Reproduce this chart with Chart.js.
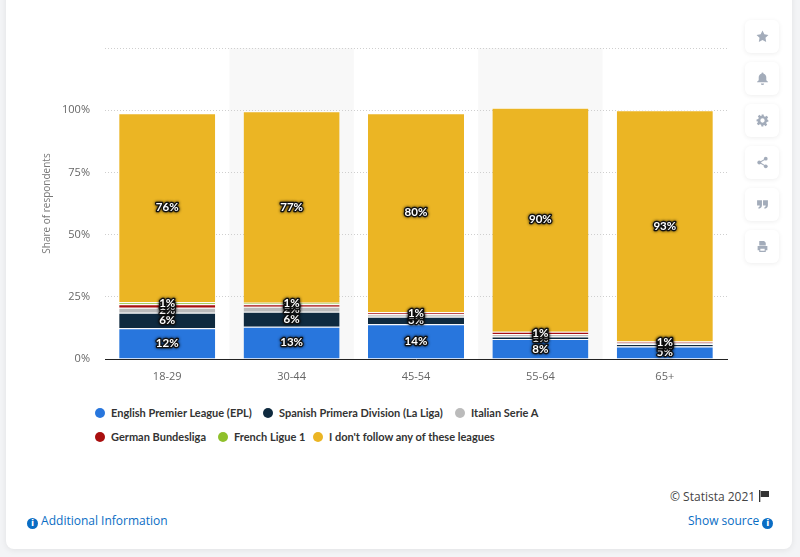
<!DOCTYPE html>
<html>
<head>
<meta charset="utf-8">
<script src="https://cdn.jsdelivr.net/npm/chart.js@4.4.1/dist/chart.umd.min.js"></script>
<style>
    html, body { margin: 0; padding: 0; }
    body { width: 800px; height: 557px; background: #f3f4f6; position: relative; overflow: hidden; font-family: 'Open Sans', sans-serif; }
    .card { position: absolute; left: 6px; top: -12px; width: 786px; height: 561px; background: #fff; border-radius: 8px; box-shadow: 0 1px 6px rgba(0,0,0,0.08); }
    .chart-box { position: absolute; left: 0; top: 2px; width: 740px; height: 395px; }
    .legend-item { position: absolute; font-family: Lato, sans-serif; font-weight: bold; font-size: 11px; color: #333; white-space: nowrap; line-height: 14px; }
    .legend-item i { position: absolute; left: 0; top: 2px; width: 10px; height: 10px; border-radius: 50%; }
    .legend-item span { position: absolute; left: 16px; top: 0; }
    .tool { position: absolute; left: 745px; width: 34px; height: 33px; background: #fff; border-radius: 6px; box-shadow: 0 1px 5px rgba(0,0,0,0.07); display: flex; align-items: center; justify-content: center; }
    .tool svg { width: 13px; height: 13px; fill: #a3acba; }
    .foot { position: absolute; font-size: 12px; white-space: nowrap; }
    .info { display: inline-block; width: 11px; height: 11px; border-radius: 50%; background: #0a6dc4; color: #fff; font: bold 9px/11px 'DejaVu Sans', sans-serif; text-align: center; vertical-align: -1px; }
</style>
</head>
<body>
<div class="card"></div>
<div class="chart-box"><canvas id="chart"></canvas></div>

<div id="legend"></div>

<div class="tool" style="top:20px"><svg viewBox="0 0 24 24"><path d="M12 1l3.4 7 7.6 1.1-5.5 5.3 1.3 7.6L12 18.4 5.2 22l1.3-7.6L1 9.1 8.6 8z"/></svg></div>
<div class="tool" style="top:62px"><svg viewBox="0 0 24 24"><path d="M12 1a2 2 0 0 1 2 2c3.5 1 5 3.6 5 7v5l3 3v1H2v-1l3-3v-5c0-3.4 1.5-6 5-7a2 2 0 0 1 2-2zM9 21h6a3 3 0 0 1-6 0z"/></svg></div>
<div class="tool" style="top:104px"><svg viewBox="0 0 24 24"><path d="M10 1h4l.6 3.2 2.3 1 2.7-1.9 2.8 2.8-1.9 2.7 1 2.3L23 12v0l0 2-3.2.6-1 2.3 1.9 2.7-2.8 2.8-2.7-1.9-2.3 1L14 23h-4l-.6-3.2-2.3-1-2.7 1.9-2.8-2.8 1.9-2.7-1-2.3L1 14v-4l3.2-.6 1-2.3-1.9-2.7 2.8-2.8 2.7 1.9 2.3-1zM12 8a4 4 0 1 0 0 8 4 4 0 0 0 0-8z"/></svg></div>
<div class="tool" style="top:146px"><svg viewBox="0 0 24 24"><circle cx="18" cy="5" r="3.5"/><circle cx="6" cy="12" r="3.5"/><circle cx="18" cy="19" r="3.5"/><path d="M6 11l12-7 1 1.7-12 7zM7 11.3l12 7-1 1.7-12-7z"/></svg></div>
<div class="tool" style="top:188px"><svg viewBox="0 0 24 24"><path d="M2 4h9v9c0 4-2 6-6 7l-1-2c2-.8 3-2 3-4H2zM13 4h9v9c0 4-2 6-6 7l-1-2c2-.8 3-2 3-4h-5z"/></svg></div>
<div class="tool" style="top:230px"><svg viewBox="0 0 24 24"><path d="M6 2h9l3 3v5H6zM3 11h18v8h-3v3H6v-3H3zM8 16v4h8v-4z"/></svg></div>

<div class="foot" style="left:670px; top:488px; color:#444;">© Statista 2021 <svg width="12" height="12" viewBox="0 0 12 12" style="vertical-align:-1px"><path d="M1 0h1.3v12H1z M2.8 1h8.2v6H2.8z" fill="#333"/></svg></div>
<div class="foot" style="left:27px; top:512px; color:#0a6dc4;"><span class="info">i</span> Additional Information</div>
<div class="foot" style="left:688px; top:512px; color:#0a6dc4;">Show source <span class="info">i</span></div>

<script>
// Age groups
const ageGroups = ['18-29', '30-44', '45-54', '55-64', '65+'];

// Share of respondents (%) per league
const eplValues = [12.4, 13, 14, 8, 5];
const laLigaValues = [6.2, 6, 3, 1, 1];
const serieAValues = [2, 2, 1, 1, 0.5];
const bundesligaValues = [1.4, 1, 0.8, 1, 0.5];
const ligue1Values = [0.8, 0.6, 0, 0, 0];
const noneValues = [76, 77, 80, 90, 93];

const yTicks = [0, 25, 50, 75, 100, 125];

const seriesNames = [
    'English Premier League (EPL)',
    'Spanish Primera Division (La Liga)',
    'Italian Serie A',
    'German Bundesliga',
    'French Ligue 1',
    "I don't follow any of these leagues"
];
const seriesColors = ['#2876dd', '#0f2a3f', '#bbbbbb', '#a90f0f', '#8fc02b', '#ebb524'];
const seriesValues = [eplValues, laLigaValues, serieAValues, bundesligaValues, ligue1Values, noneValues];

// legend placement (left, top) in page pixels
const legendSpots = [[95, 406], [263, 406], [455, 406], [95, 430], [218, 430], [313, 430]];
const legendEl = document.getElementById('legend');
seriesNames.forEach((name, i) => {
    const d = document.createElement('div');
    d.className = 'legend-item';
    d.style.left = legendSpots[i][0] + 'px';
    d.style.top = legendSpots[i][1] + 'px';
    d.innerHTML = '<i style="background:' + seriesColors[i] + '"></i><span>' + name + '</span>';
    legendEl.appendChild(d);
});

// shaded bands behind every second category
const bandPlugin = {
    id: 'bands',
    beforeDraw(chart) {
        const { ctx, chartArea, scales } = chart;
        const step = (chartArea.right - chartArea.left) / ageGroups.length;
        ctx.save();
        ctx.fillStyle = '#f8f8f8';
        ageGroups.forEach((g, i) => {
            if (i % 2 === 1) {
                const x = scales.x.getPixelForValue(i) - step / 2;
                ctx.fillRect(x, chartArea.top, step, chartArea.bottom - chartArea.top);
            }
        });
        ctx.restore();
    }
};

// white percentage labels with dark halo
const valueLabels = {
    id: 'valueLabels',
    afterDatasetsDraw(chart) {
        const ctx = chart.ctx;
        ctx.save();
        ctx.font = 'bold 11.5px Lato, sans-serif';
        ctx.textAlign = 'center';
        ctx.textBaseline = 'middle';
        ctx.lineJoin = 'round';
        chart.data.datasets.forEach((ds, di) => {
            const meta = chart.getDatasetMeta(di);
            meta.data.forEach((bar, i) => {
                const v = ds.data[i];
                if (!v) return;
                const txt = Math.round(v) + '%';
                const y = (bar.y + bar.base) / 2;
                ctx.shadowColor = 'rgba(0,0,0,0.9)';
                ctx.shadowBlur = 3;
                ctx.strokeStyle = '#111';
                ctx.lineWidth = 2.5;
                ctx.strokeText(txt, bar.x, y);
                ctx.shadowBlur = 0;
                ctx.fillStyle = '#fff';
                ctx.fillText(txt, bar.x, y);
            });
        });
        ctx.restore();
    }
};

new Chart(document.getElementById('chart'), {
    type: 'bar',
    data: {
        labels: ageGroups,
        datasets: seriesNames.map((name, i) => ({
            label: name,
            data: seriesValues[i],
            backgroundColor: seriesColors[i],
            borderColor: '#ffffff',
            borderWidth: { top: 1, right: 0, bottom: 0, left: 0 },
            borderSkipped: false,
            categoryPercentage: 1,
            barPercentage: 0.772
        }))
    },
    options: {
        responsive: true,
        maintainAspectRatio: false,
        animation: false,
        layout: { padding: { top: 46, right: 13, left: 0, bottom: 0 } },
        plugins: {
            legend: { display: false },
            tooltip: { enabled: false }
        },
        scales: {
            x: {
                stacked: true,
                grid: { display: false, drawTicks: false },
                border: { display: true, color: '#222', width: 1 },
                ticks: { color: '#666', font: { family: 'Open Sans', size: 11 }, padding: 11 },
                afterFit(scale) { scale.height = 38; }
            },
            y: {
                stacked: true,
                min: 0,
                max: 125,
                afterBuildTicks(scale) { scale.ticks = yTicks.map(v => ({ value: v })); },
                grid: { color: '#cfcfcf', drawTicks: false },
                border: { display: false, dash: [1, 2] },
                ticks: {
                    color: '#666',
                    font: { family: 'Open Sans', size: 11 },
                    padding: 15,
                    callback: v => v === 125 ? '' : v + '%'
                },
                title: {
                    display: true,
                    text: 'Share of respondents',
                    color: '#777',
                    font: { family: 'Open Sans', size: 10 },
                    padding: { top: 41 }
                },
                afterFit(scale) { scale.width = 105; }
            }
        }
    },
    plugins: [bandPlugin, valueLabels]
});
</script>
</body>
</html>
